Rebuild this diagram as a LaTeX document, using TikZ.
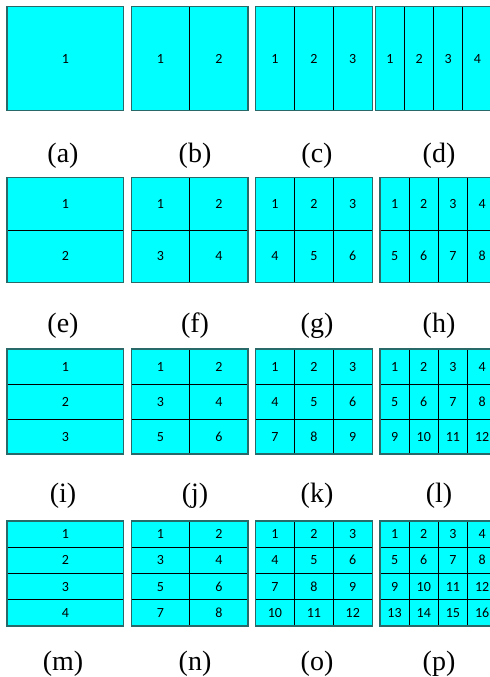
\documentclass[tikz,border=0pt]{standalone}
\usepackage{fontspec}
\setmainfont{Liberation Serif}
\newfontfamily\numfont[Numbers=Lining]{Carlito}
\definecolor{cellfill}{RGB}{0,255,255}
\definecolor{edgecol}{RGB}{40,105,105}
\begin{document}
\begin{tikzpicture}[x=1bp,y=-1bp,
  divline/.style={draw=black,line width=0.9bp},
  outerline/.style={draw=edgecol,line width=1.3bp},
  numtext/.style={font=\numfont\fontsize{14bp}{16bp}\selectfont,inner sep=0pt,text=black,text height=9bp,text depth=0pt},
  captext/.style={font=\fontsize{28bp}{30bp}\selectfont,inner sep=0pt,anchor=base}]
\useasboundingbox (0,0) rectangle (490,677);
\clip (0,0) rectangle (490,677);
\fill[white] (0,0) rectangle (490,677);
\foreach \r in {0,...,3}{
  \foreach \c in {0,...,3}{
    \pgfmathsetmacro\xo{{7,131.3,255.5,380}[\c]}
    \ifnum\r=0 \ifnum\c=3 \def\xo{375.3}\fi\fi
    \pgfmathsetmacro\yo{{6.7,177.7,349,521}[\r]}
    \pgfmathsetmacro\hh{\r==0 ? 104 : 105}
    \def\ww{116.7}
    \pgfmathtruncatemacro\ncol{\c+1}
    \pgfmathtruncatemacro\nrow{\r+1}
    \fill[cellfill] (\xo,\yo) rectangle ++(\ww,\hh);
    \ifnum\c>0
      \foreach \i in {1,...,\c}{
        \draw[divline] ({\xo+\i*\ww/\ncol},\yo) -- ++(0,\hh);
      }
    \fi
    \ifnum\r>0
      \foreach \j in {1,...,\r}{
        \draw[divline] (\xo,{\yo+\j*\hh/\nrow}) -- ++(\ww,0);
      }
    \fi
    \draw[outerline] (\xo,\yo) rectangle ++(\ww,\hh);
    \foreach \j in {0,...,\r}{
      \foreach \i in {0,...,\c}{
        \pgfmathtruncatemacro\k{\j*\ncol+\i+1}
        \node[numtext] (n\r\c-\k) at ({\xo+(\i+0.5)*\ww/\ncol},{\yo+(\j+0.5)*\hh/\nrow}) {\k};
      }
    }
  }
}
\foreach \lab [count=\n from 0] in {a,b,c,d,e,f,g,h,i,j,k,l,m,n,o,p}{
  \pgfmathtruncatemacro\r{int(\n/4)}
  \pgfmathtruncatemacro\c{mod(\n,4)}
  \pgfmathsetmacro\lx{{63,195,317,439}[\c]}
  \pgfmathsetmacro\ly{{162,332,502,670}[\r]}
  \node[captext] (cap\lab) at (\lx,\ly) {(\lab)};
}
\end{tikzpicture}
\end{document}
